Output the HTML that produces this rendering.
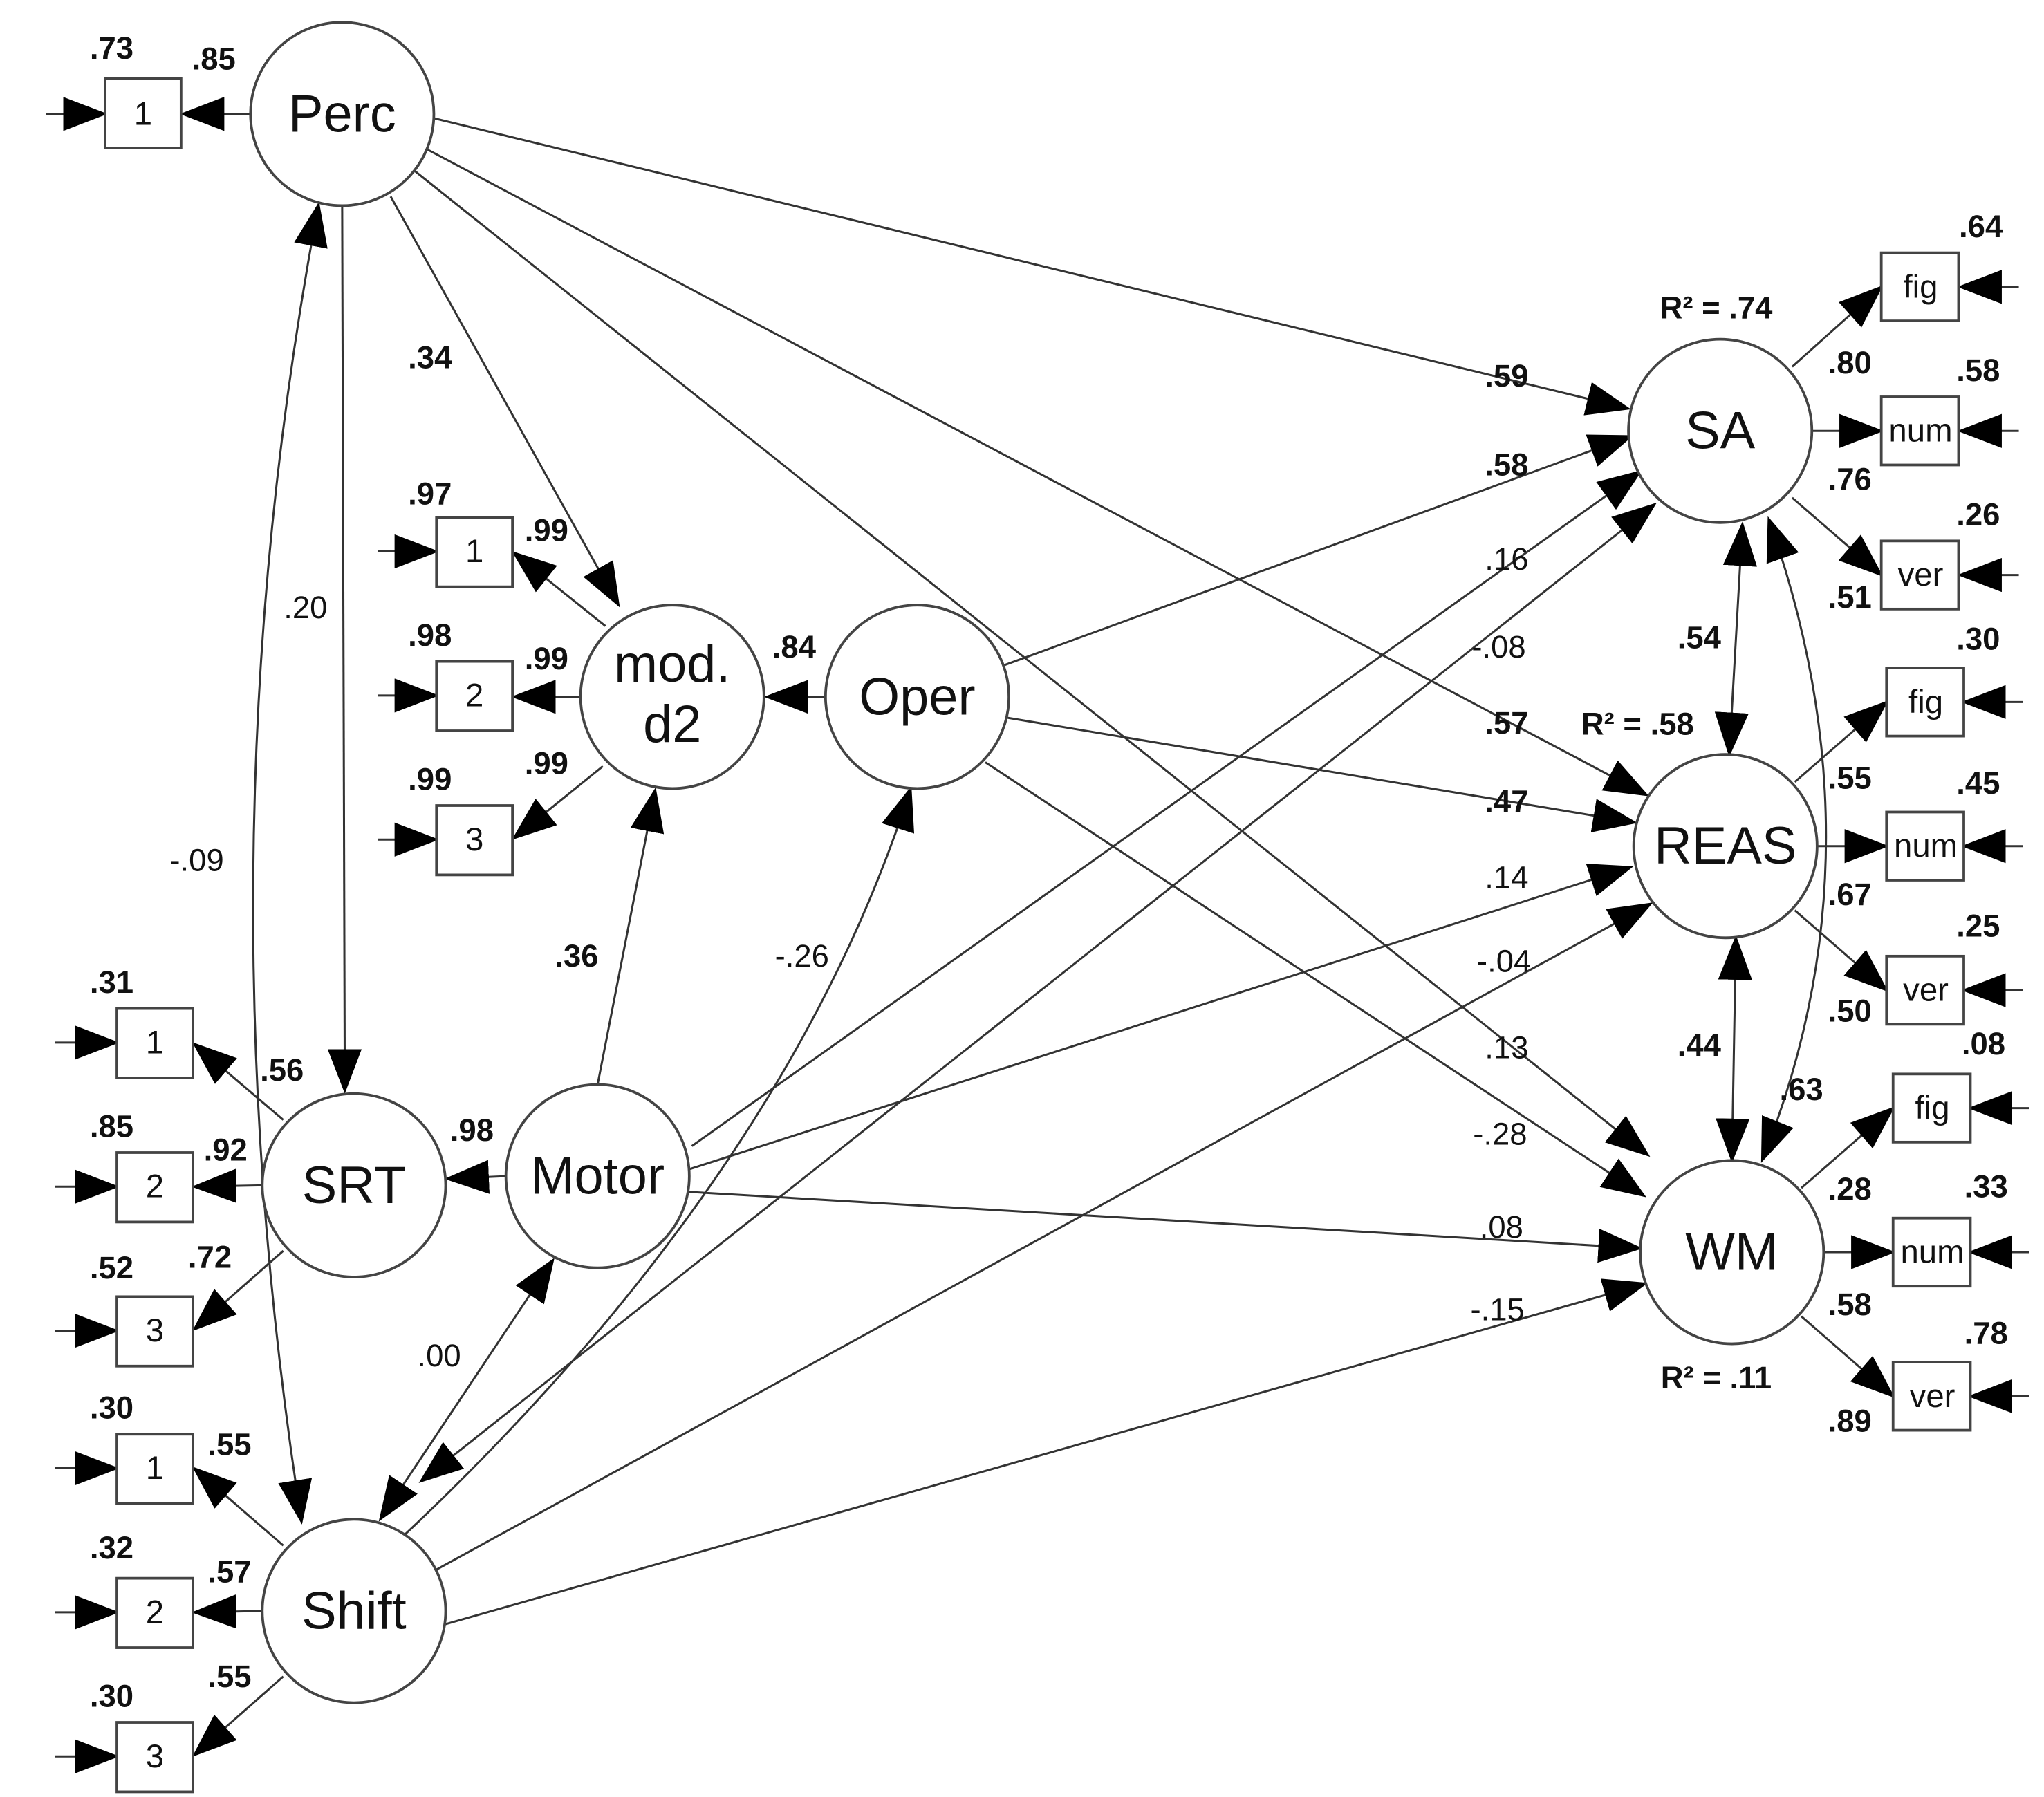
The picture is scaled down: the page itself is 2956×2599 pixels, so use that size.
<!DOCTYPE html>
<html><head><meta charset="utf-8"><style>
html,body{margin:0;padding:0;background:#fff;}
svg{display:block;}
.n{font-family:"Liberation Sans",Arial,sans-serif;font-size:40px;fill:#111;text-anchor:middle;dominant-baseline:central;}
.b{font-family:"Liberation Sans",Arial,sans-serif;font-size:24px;font-weight:bold;fill:#111;text-anchor:middle;}
.r{font-family:"Liberation Sans",Arial,sans-serif;font-size:24px;fill:#111;text-anchor:middle;}
.bx{font-family:"Liberation Sans",Arial,sans-serif;font-size:25px;fill:#111;text-anchor:middle;dominant-baseline:central;}
line,path{stroke:#333;stroke-width:1.6;fill:none;}
circle,rect{stroke:#444;stroke-width:2;fill:#fff;}
</style></head><body>
<svg width="2956" height="2599" viewBox="0 0 1560 1372" xmlns="http://www.w3.org/2000/svg">
<defs>
<marker id="a" markerUnits="userSpaceOnUse" markerWidth="34" markerHeight="26" refX="32" refY="13" orient="auto"><path d="M0,0 L34,13 L0,26 Z" style="fill:#000;stroke:none"/></marker>
<marker id="s" markerUnits="userSpaceOnUse" markerWidth="34" markerHeight="26" refX="2" refY="13" orient="auto"><path d="M34,0 L0,13 L34,26 Z" style="fill:#000;stroke:none"/></marker>
</defs>

<line x1="330" y1="90" x2="1243" y2="312" marker-end="url(#a)"/>
<line x1="322" y1="112" x2="1257" y2="607" marker-end="url(#a)"/>
<line x1="312" y1="127" x2="1258" y2="882" marker-end="url(#a)"/>
<line x1="298" y1="150" x2="472" y2="462" marker-end="url(#a)"/>
<line x1="261" y1="157" x2="263" y2="833" marker-end="url(#a)"/>
<path d="M243,156 Q150,650 230,1162" marker-start="url(#s)" marker-end="url(#a)"/>
<line x1="766" y1="508" x2="1245" y2="333" marker-end="url(#a)"/>
<line x1="769" y1="548" x2="1248" y2="628" marker-end="url(#a)"/>
<line x1="752" y1="582" x2="1255" y2="913" marker-end="url(#a)"/>
<line x1="630" y1="532" x2="585" y2="532" marker-end="url(#a)"/>
<line x1="528" y1="875" x2="1252" y2="360" marker-end="url(#a)"/>
<line x1="525" y1="893" x2="1245" y2="662" marker-end="url(#a)"/>
<line x1="526" y1="910" x2="1252" y2="953" marker-end="url(#a)"/>
<line x1="456" y1="828" x2="500" y2="603" marker-end="url(#a)"/>
<line x1="386" y1="898" x2="341" y2="900" marker-end="url(#a)"/>
<line x1="422" y1="962" x2="290" y2="1160" marker-start="url(#s)" marker-end="url(#a)"/>
<path d="M300,1180 Q600,900 695,602" marker-end="url(#a)"/>
<line x1="321" y1="1131" x2="1263" y2="385" marker-start="url(#s)" marker-end="url(#a)"/>
<line x1="330" y1="1200" x2="1260" y2="690" marker-end="url(#a)"/>
<line x1="340" y1="1240" x2="1256" y2="980" marker-end="url(#a)"/>
<line x1="1330" y1="400" x2="1320" y2="576" marker-start="url(#s)" marker-end="url(#a)"/>
<line x1="1325" y1="716" x2="1322" y2="886" marker-start="url(#s)" marker-end="url(#a)"/>
<path d="M1350,396 Q1440,650 1345,886" marker-start="url(#s)" marker-end="url(#a)"/>

<line x1="191" y1="87" x2="139" y2="87" marker-end="url(#a)"/>
<line x1="35" y1="87" x2="80" y2="87" marker-end="url(#a)"/>
<line x1="462" y1="478" x2="392" y2="422" marker-end="url(#a)"/>
<line x1="443" y1="532" x2="392" y2="532" marker-end="url(#a)"/>
<line x1="460" y1="585" x2="392" y2="640" marker-end="url(#a)"/>
<line x1="288" y1="421" x2="333" y2="421" marker-end="url(#a)"/>
<line x1="288" y1="531" x2="333" y2="531" marker-end="url(#a)"/>
<line x1="288" y1="641" x2="333" y2="641" marker-end="url(#a)"/>
<line x1="216" y1="855" x2="148" y2="797" marker-end="url(#a)"/>
<line x1="200" y1="905" x2="148" y2="906" marker-end="url(#a)"/>
<line x1="216" y1="955" x2="148" y2="1015" marker-end="url(#a)"/>
<line x1="216" y1="1180" x2="148" y2="1121" marker-end="url(#a)"/>
<line x1="200" y1="1230" x2="148" y2="1231" marker-end="url(#a)"/>
<line x1="216" y1="1280" x2="148" y2="1340" marker-end="url(#a)"/>
<line x1="42" y1="796" x2="89" y2="796" marker-end="url(#a)"/>
<line x1="42" y1="906" x2="89" y2="906" marker-end="url(#a)"/>
<line x1="42" y1="1016" x2="89" y2="1016" marker-end="url(#a)"/>
<line x1="42" y1="1121" x2="89" y2="1121" marker-end="url(#a)"/>
<line x1="42" y1="1231" x2="89" y2="1231" marker-end="url(#a)"/>
<line x1="42" y1="1341" x2="89" y2="1341" marker-end="url(#a)"/>

<line x1="1368" y1="280" x2="1436" y2="219" marker-end="url(#a)"/>
<line x1="1383" y1="329" x2="1436" y2="329" marker-end="url(#a)"/>
<line x1="1368" y1="380" x2="1436" y2="439" marker-end="url(#a)"/>
<line x1="1541" y1="219" x2="1496" y2="219" marker-end="url(#a)"/>
<line x1="1541" y1="329" x2="1496" y2="329" marker-end="url(#a)"/>
<line x1="1541" y1="439" x2="1496" y2="439" marker-end="url(#a)"/>
<line x1="1370" y1="597" x2="1440" y2="536" marker-end="url(#a)"/>
<line x1="1387" y1="646" x2="1440" y2="646" marker-end="url(#a)"/>
<line x1="1370" y1="695" x2="1440" y2="756" marker-end="url(#a)"/>
<line x1="1544" y1="536" x2="1499" y2="536" marker-end="url(#a)"/>
<line x1="1544" y1="646" x2="1499" y2="646" marker-end="url(#a)"/>
<line x1="1544" y1="756" x2="1499" y2="756" marker-end="url(#a)"/>
<line x1="1375" y1="907" x2="1445" y2="846" marker-end="url(#a)"/>
<line x1="1392" y1="956" x2="1445" y2="956" marker-end="url(#a)"/>
<line x1="1375" y1="1005" x2="1445" y2="1066" marker-end="url(#a)"/>
<line x1="1549" y1="846" x2="1504" y2="846" marker-end="url(#a)"/>
<line x1="1549" y1="956" x2="1504" y2="956" marker-end="url(#a)"/>
<line x1="1549" y1="1066" x2="1504" y2="1066" marker-end="url(#a)"/>

<circle cx="261" cy="87" r="70"/><text class="n" x="261" y="87">Perc</text>
<circle cx="513" cy="532" r="70"/><text class="n" x="513" y="507">mod.</text><text class="n" x="513" y="553">d2</text>
<circle cx="700" cy="532" r="70"/><text class="n" x="700" y="532">Oper</text>
<circle cx="270" cy="905" r="70"/><text class="n" x="270" y="905">SRT</text>
<circle cx="456" cy="898" r="70"/><text class="n" x="456" y="898">Motor</text>
<circle cx="270" cy="1230" r="70"/><text class="n" x="270" y="1230">Shift</text>
<circle cx="1313" cy="329" r="70"/><text class="n" x="1313" y="329">SA</text>
<circle cx="1317" cy="646" r="70"/><text class="n" x="1317" y="646">REAS</text>
<circle cx="1322" cy="956" r="70"/><text class="n" x="1322" y="956">WM</text>

<rect x="80" y="60" width="58" height="53"/><text class="bx" x="109" y="87">1</text>
<rect x="333" y="395" width="58" height="53"/><text class="bx" x="362" y="421">1</text>
<rect x="333" y="505" width="58" height="53"/><text class="bx" x="362" y="531">2</text>
<rect x="333" y="615" width="58" height="53"/><text class="bx" x="362" y="641">3</text>
<rect x="89" y="770" width="58" height="53"/><text class="bx" x="118" y="796">1</text>
<rect x="89" y="880" width="58" height="53"/><text class="bx" x="118" y="906">2</text>
<rect x="89" y="990" width="58" height="53"/><text class="bx" x="118" y="1016">3</text>
<rect x="89" y="1095" width="58" height="53"/><text class="bx" x="118" y="1121">1</text>
<rect x="89" y="1205" width="58" height="53"/><text class="bx" x="118" y="1231">2</text>
<rect x="89" y="1315" width="58" height="53"/><text class="bx" x="118" y="1341">3</text>
<rect x="1436" y="193" width="59" height="52"/><text class="bx" x="1466" y="219">fig</text>
<rect x="1436" y="303" width="59" height="52"/><text class="bx" x="1466" y="329">num</text>
<rect x="1436" y="413" width="59" height="52"/><text class="bx" x="1466" y="439">ver</text>
<rect x="1440" y="510" width="59" height="52"/><text class="bx" x="1470" y="536">fig</text>
<rect x="1440" y="620" width="59" height="52"/><text class="bx" x="1470" y="646">num</text>
<rect x="1440" y="730" width="59" height="52"/><text class="bx" x="1470" y="756">ver</text>
<rect x="1445" y="820" width="59" height="52"/><text class="bx" x="1475" y="846">fig</text>
<rect x="1445" y="930" width="59" height="52"/><text class="bx" x="1475" y="956">num</text>
<rect x="1445" y="1040" width="59" height="52"/><text class="bx" x="1475" y="1066">ver</text>

<text class="b" x="1150" y="295">.59</text>
<text class="b" x="1150" y="363">.58</text>
<text class="r" x="1150" y="435">.16</text>
<text class="r" x="1144" y="502">-.08</text>
<text class="b" x="1150" y="560">.57</text>
<text class="b" x="1150" y="620">.47</text>
<text class="r" x="1150" y="678">.14</text>
<text class="r" x="1148" y="742">-.04</text>
<text class="r" x="1150" y="808">.13</text>
<text class="r" x="1145" y="874">-.28</text>
<text class="r" x="1146" y="945">.08</text>
<text class="r" x="1143" y="1008">-.15</text>
<text class="b" x="328" y="281">.34</text>
<text class="r" x="233" y="472">.20</text>
<text class="r" x="150" y="665">-.09</text>
<text class="b" x="606" y="502">.84</text>
<text class="b" x="440" y="738">.36</text>
<text class="r" x="612" y="738">-.26</text>
<text class="b" x="360" y="871">.98</text>
<text class="r" x="335" y="1043">.00</text>
<text class="b" x="1297" y="495">.54</text>
<text class="b" x="1297" y="806">.44</text>
<text class="b" x="1375" y="840">.63</text>
<text class="b" x="1310" y="243">R² = .74</text>
<text class="b" x="1250" y="561">R² = .58</text>
<text class="b" x="1310" y="1060">R² = .11</text>
<text class="b" x="85" y="45">.73</text><text class="b" x="163" y="53">.85</text>
<text class="b" x="328" y="385">.97</text><text class="b" x="417" y="413">.99</text>
<text class="b" x="328" y="493">.98</text><text class="b" x="417" y="511">.99</text>
<text class="b" x="328" y="603">.99</text><text class="b" x="417" y="591">.99</text>
<text class="b" x="85" y="758">.31</text><text class="b" x="215" y="825">.56</text>
<text class="b" x="85" y="868">.85</text><text class="b" x="172" y="886">.92</text>
<text class="b" x="85" y="976">.52</text><text class="b" x="160" y="968">.72</text>
<text class="b" x="85" y="1083">.30</text><text class="b" x="175" y="1111">.55</text>
<text class="b" x="85" y="1190">.32</text><text class="b" x="175" y="1208">.57</text>
<text class="b" x="85" y="1303">.30</text><text class="b" x="175" y="1288">.55</text>
<text class="b" x="1512" y="181">.64</text><text class="b" x="1412" y="285">.80</text>
<text class="b" x="1510" y="291">.58</text><text class="b" x="1412" y="374">.76</text>
<text class="b" x="1510" y="401">.26</text><text class="b" x="1412" y="464">.51</text>
<text class="b" x="1510" y="496">.30</text><text class="b" x="1412" y="602">.55</text>
<text class="b" x="1510" y="606">.45</text><text class="b" x="1412" y="691">.67</text>
<text class="b" x="1510" y="715">.25</text><text class="b" x="1412" y="780">.50</text>
<text class="b" x="1514" y="805">.08</text><text class="b" x="1412" y="916">.28</text>
<text class="b" x="1516" y="914">.33</text><text class="b" x="1412" y="1004">.58</text>
<text class="b" x="1516" y="1026">.78</text><text class="b" x="1412" y="1093">.89</text>
</svg>
</body></html>
